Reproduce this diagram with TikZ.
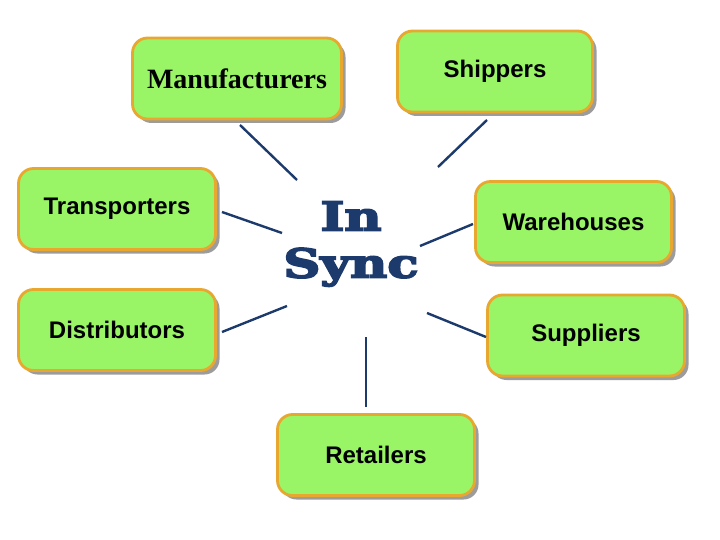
\documentclass[tikz,border=0pt]{standalone}
\usepackage{fontspec}
\usepackage{graphicx}
\setmainfont{Liberation Sans}
\newfontfamily\timesfont{Liberation Serif}
\newfontfamily\slabfont{DejaVu Serif}[BoldFont={* Bold},BoldFeatures={FakeBold=4}]
\usetikzlibrary{shadows}
\definecolor{boxfill}{HTML}{99F566}
\definecolor{boxline}{HTML}{E8A830}
\definecolor{navy}{HTML}{1C3A6C}
\begin{document}
\begin{tikzpicture}[x=1pt,y=-1pt,
  box/.style={draw=boxline, fill=boxfill, line width=2.8pt, rounded corners=15pt,
    minimum width=197pt, minimum height=81pt, inner sep=0pt,
    drop shadow={shadow xshift=4pt, shadow yshift=-4pt, fill=black!70, opacity=0.55},
    font=\fontsize{24}{28}\selectfont\bfseries},
  spoke/.style={draw=navy, line width=2.4pt}]
\useasboundingbox (0,0) rectangle (720,540);
\fill[white] (0,0) rectangle (720,540);

\node[box, minimum width=209pt, font=\fontsize{28}{32}\timesfont\bfseries] (mfr) at (237,78.5) {Manufacturers};
\node[box, minimum width=195pt] (shp) at (495,71.5) {Shippers};
\node[box] (trn) at (117,209) {Transporters};
\node[box, minimum width=196pt] (whs) at (573.5,222) {Warehouses};
\node[box] (dst) at (117,330) {Distributors};
\node[box] (sup) at (586,335.5) {Suppliers};
\node[box] (ret) at (376,455) {Retailers};

\node[text=navy, align=center, inner sep=0pt,
  font=\fontsize{40}{47}\slabfont\bfseries] (sync) at (351,244) {\scalebox{1.28}[1]{In}\\\scalebox{1.28}[1]{Sync}};

\coordinate (m1) at (240,125); \coordinate (m2) at (297,180);
\coordinate (s1) at (487,120); \coordinate (s2) at (438,167);
\coordinate (t1) at (222,212); \coordinate (t2) at (282,233);
\coordinate (w1) at (473,224); \coordinate (w2) at (420,246);
\coordinate (d1) at (222,332); \coordinate (d2) at (287,306);
\coordinate (u1) at (486,337); \coordinate (u2) at (427,313);
\coordinate (r1) at (366,407); \coordinate (r2) at (366,337);

\draw[spoke] (m1) -- (m2);
\draw[spoke] (s1) -- (s2);
\draw[spoke] (t1) -- (t2);
\draw[spoke] (w1) -- (w2);
\draw[spoke] (d1) -- (d2);
\draw[spoke] (u1) -- (u2);
\draw[spoke] (r1) -- (r2);
\end{tikzpicture}
\end{document}
